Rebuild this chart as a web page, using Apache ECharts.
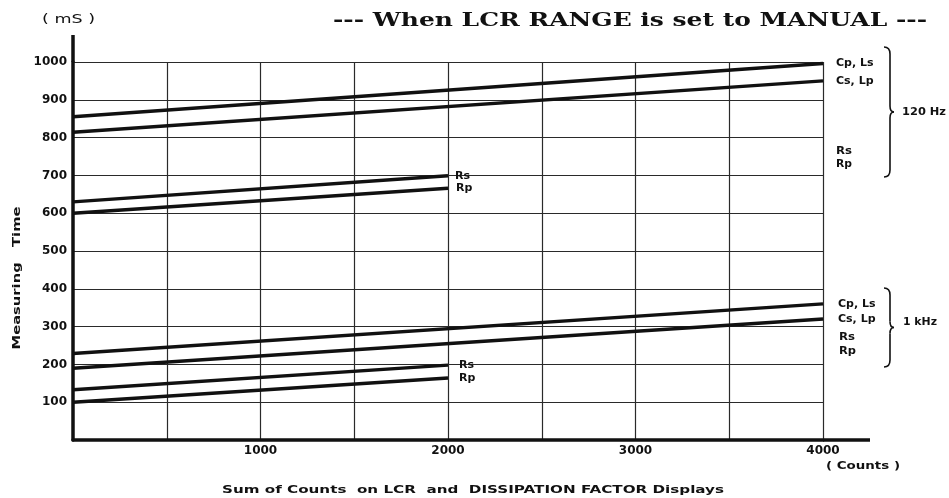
<!DOCTYPE html>
<html>
<head>
<meta charset="utf-8">
<script src="https://cdn.jsdelivr.net/npm/echarts@6/dist/echarts.min.js"></script>
<style>
  html, body { margin: 0; padding: 0; background: #fff; }
  #chart { width: 949px; height: 498px; }
</style>
</head>
<body>
<div id="chart"></div>
<script>
// counts where each line starts / stops
const countsFull = [0, 4000]
const countsHalf = [0, 2000]

// 120 Hz measuring time (mS)
const cpLs120 = [855, 996]
const csLp120 = [814, 950]
const rs120 = [630, 699]
const rp120 = [600, 666]

// 1 kHz measuring time (mS)
const cpLs1k = [229, 360]
const csLp1k = [190, 320]
const rs1k = [133, 198]
const rp1k = [100, 164]

const xLabels = [1000, 2000, 3000, 4000]

const INK = '#111'
const SANS = '"DejaVu Sans", sans-serif'

const pts = (xs, ys) => xs.map((x, i) => [x, ys[i]])

const lines = [
  { name: 'Cp, Ls', data: pts(countsFull, cpLs120), dist: 13 },
  { name: 'Cs, Lp', data: pts(countsFull, csLp120), dist: 13 },
  { name: 'Rs', data: pts(countsHalf, rs120), dist: 7 },
  { name: 'Rp', data: pts(countsHalf, rp120), dist: 8 },
  { name: 'Cp, Ls', data: pts(countsFull, cpLs1k), dist: 15 },
  { name: 'Cs, Lp', data: pts(countsFull, csLp1k), dist: 15 },
  { name: 'Rs', data: pts(countsHalf, rs1k), dist: 11 },
  { name: 'Rp', data: pts(countsHalf, rp1k), dist: 11 }
]

// the scan is stretched sideways, so the texts get a scaleX to fit their width
const ctx = document.createElement('canvas').getContext('2d')
function textWidth(text, font) {
  ctx.font = font
  return ctx.measureText(text).width
}

function wideText(text, left, right, y, font) {
  const w = textWidth(text, font)
  return {
    type: 'text',
    x: left,
    y: y,
    scaleX: (right - left) / w,
    style: {
      text: text, font: font, fill: INK,
      align: 'left', verticalAlign: 'middle',
      textAlign: 'left', textVerticalAlign: 'middle'
    }
  }
}

// curly brace "}" drawn from pieces
function brace(x, top, bottom) {
  const mid = (top + bottom) / 2
  const s = { stroke: INK, lineWidth: 1.6, fill: null }
  return [
    { type: 'bezierCurve', shape: { x1: x - 6, y1: top, cpx1: x, cpy1: top, x2: x, y2: top + 7 }, style: s },
    { type: 'line', shape: { x1: x, y1: top + 7, x2: x, y2: mid - 6 }, style: s },
    { type: 'bezierCurve', shape: { x1: x, y1: mid - 6, cpx1: x, cpy1: mid, x2: x + 4, y2: mid }, style: s },
    { type: 'bezierCurve', shape: { x1: x + 4, y1: mid, cpx1: x, cpy1: mid, x2: x, y2: mid + 6 }, style: s },
    { type: 'line', shape: { x1: x, y1: mid + 6, x2: x, y2: bottom - 7 }, style: s },
    { type: 'bezierCurve', shape: { x1: x, y1: bottom - 7, cpx1: x, cpy1: bottom, x2: x - 6, y2: bottom }, style: s }
  ]
}

const LBL = 'bold 11px ' + SANS

const chart = echarts.init(document.getElementById('chart'))

const option = {
  backgroundColor: '#fff',
  animation: false,
  grid: { left: 73, right: 126, top: 62, bottom: 58 },
  xAxis: {
    type: 'value',
    min: 0,
    max: 4000,
    interval: 500,
    axisLine: { show: true, lineStyle: { color: INK, width: 3.5 } },
    axisTick: { show: false },
    axisLabel: {
      margin: 5,
      color: INK,
      fontFamily: SANS,
      fontWeight: 'bold',
      fontSize: 12,
      formatter: v => (xLabels.indexOf(v) >= 0 ? String(v) : '')
    },
    splitLine: { show: true, showMinLine: false, lineStyle: { color: '#2a2a2a', width: 1.2 } }
  },
  yAxis: {
    type: 'value',
    min: 0,
    max: 1000,
    interval: 100,
    axisLine: { show: true, lineStyle: { color: INK, width: 3.5 } },
    axisTick: { show: false },
    axisLabel: {
      margin: 6,
      color: INK,
      fontFamily: SANS,
      fontWeight: 'bold',
      fontSize: 12,
      formatter: v => (v === 0 ? '' : String(v))
    },
    splitLine: { show: true, showMinLine: false, lineStyle: { color: '#2a2a2a', width: 1.2 } }
  },
  series: lines.map(l => ({
    type: 'line',
    name: l.name,
    data: l.data,
    symbol: 'none',
    lineStyle: { color: INK, width: 3.4 },
    endLabel: {
      show: true,
      formatter: l.name,
      distance: l.dist,
      color: INK,
      fontFamily: SANS,
      fontWeight: 'bold',
      fontSize: 11
    },
    emphasis: { disabled: true }
  })),
  graphic: [
    wideText('--- When LCR RANGE is set to MANUAL ---', 333, 927, 21, 'bold 18px "DejaVu Serif", serif'),
    wideText('( mS )', 42, 95, 20, '12px ' + SANS),
    wideText('( Counts )', 826, 900, 466, 'bold 11px ' + SANS),
    wideText('Sum of Counts  on LCR  and  DISSIPATION FACTOR Displays', 222, 724, 490, 'bold 10px ' + SANS),
    (function () {
      const t = 'Measuring   Time'
      const f = 'bold 10px ' + SANS
      return {
        type: 'text', x: 17, y: 278, rotation: Math.PI / 2,
        scaleX: 143 / textWidth(t, f),
        style: {
          text: t, font: f, fill: INK,
          align: 'center', verticalAlign: 'middle',
          textAlign: 'center', textVerticalAlign: 'middle'
        }
      }
    })(),
    // axis lines run past the grid in the original
    { type: 'line', shape: { x1: 73, y1: 35, x2: 73, y2: 62 }, style: { stroke: INK, lineWidth: 3.5 } },
    { type: 'line', shape: { x1: 823, y1: 440, x2: 870, y2: 440 }, style: { stroke: INK, lineWidth: 3.5 } },
    wideText('Rs', 836, 852, 151, LBL),
    wideText('Rp', 836, 852, 164, LBL),
    wideText('Rs', 839, 855, 337, LBL),
    wideText('Rp', 839, 856, 351, LBL),
    wideText('120 Hz', 902, 946, 112, LBL),
    wideText('1 kHz', 903, 937, 322, LBL)
  ].concat(brace(890, 47, 177), brace(890, 288, 367))
}

chart.setOption(option)

window.onresize = () => {
  chart.resize()
}
</script>
</body>
</html>
